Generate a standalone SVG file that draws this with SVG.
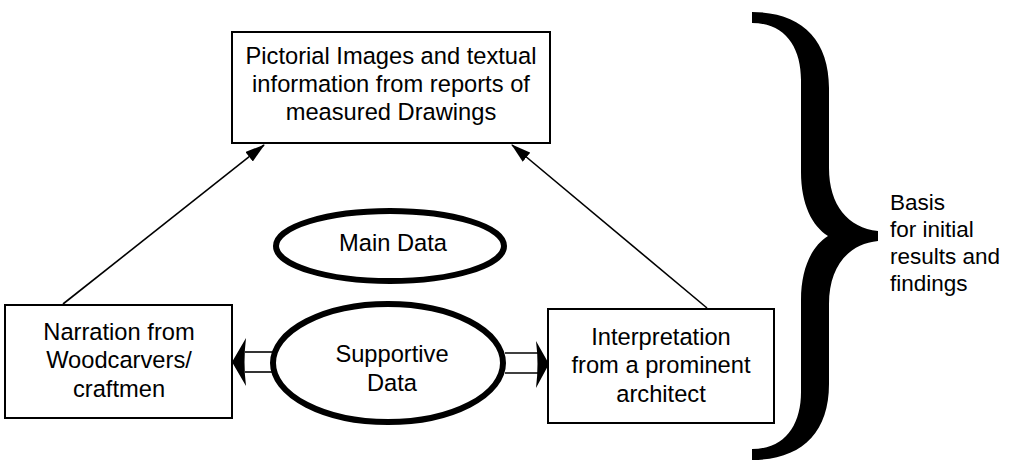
<svg xmlns="http://www.w3.org/2000/svg" width="1015" height="461" viewBox="0 0 1015 461">
<style>
.box{fill:#fff;stroke:#000;stroke-width:2}
.ell{fill:#fff;stroke:#000;stroke-width:6}
.t{font-family:"Liberation Sans",Arial,sans-serif;font-size:23.7px;fill:#000;text-anchor:middle}
.s{font-family:"Liberation Sans",Arial,sans-serif;font-size:22.5px;fill:#000}
.ln{stroke:#000;stroke-width:1.6;fill:none}
</style>
<defs>
<marker id="ah" viewBox="0 0 20 12" refX="19" refY="6" markerWidth="20" markerHeight="12" markerUnits="userSpaceOnUse" orient="auto">
<path d="M0,0 L20,6 L0,12 Z" fill="#000"/>
</marker>
</defs>
<rect width="1015" height="461" fill="#fff"/>
<g id="connectors">
<line class="ln" x1="63" y1="304" x2="264" y2="145" marker-end="url(#ah)"/>
<line class="ln" x1="707" y1="308" x2="512" y2="145" marker-end="url(#ah)"/>
<line class="ln" x1="245" y1="352" x2="272" y2="352"/>
<line class="ln" x1="245" y1="372" x2="272" y2="372"/>
<path d="M232,362 L246,338 Q243,362 246,386 Z" fill="#000"/>
<line class="ln" x1="505" y1="353" x2="538" y2="353"/>
<line class="ln" x1="505" y1="373" x2="538" y2="373"/>
<path d="M549,364 L536,341 Q539,364 536,388 Z" fill="#000"/>
</g>
<g id="top-box">
<rect class="box" x="232" y="32" width="318" height="111"/>
<text class="t" x="391" y="64">Pictorial Images and textual</text>
<text class="t" x="391" y="92">information from reports of</text>
<text class="t" x="391" y="120">measured Drawings</text>
</g>
<g id="main-data">
<ellipse class="ell" cx="390" cy="246" rx="114" ry="35"/>
<text class="t" x="393" y="251">Main Data</text>
</g>
<g id="left-box">
<rect class="box" x="5" y="305" width="227" height="113"/>
<text class="t" x="119" y="340">Narration from</text>
<text class="t" x="119" y="368">Woodcarvers/</text>
<text class="t" x="119" y="397">craftmen</text>
</g>
<g id="supportive-data">
<ellipse class="ell" cx="388" cy="363" rx="115" ry="59"/>
<text class="t" x="392" y="362">Supportive</text>
<text class="t" x="392" y="391">Data</text>
</g>
<g id="right-box">
<rect class="box" x="548" y="309" width="226" height="114"/>
<text class="t" x="661" y="345">Interpretation</text>
<text class="t" x="661" y="373">from a prominent</text>
<text class="t" x="661" y="402">architect</text>
</g>
<g id="brace">
<path d="M752,12 C800,12 829,38 829,88 L829,168 C829,205 848,228 878,231 L878,241 C848,244 829,267 829,304 L829,384 C829,434 800,460 752,460 L752,449 C785,449 801,425 801,392 L801,300 C801,268 812,246 828,236 C812,226 801,204 801,172 L801,80 C801,47 785,23 752,23 Z" fill="#000"/>
</g>
<g id="side-note">
<text class="s" x="890" y="210">Basis</text>
<text class="s" x="890" y="237">for initial</text>
<text class="s" x="890" y="264">results and</text>
<text class="s" x="890" y="291">findings</text>
</g>
</svg>
